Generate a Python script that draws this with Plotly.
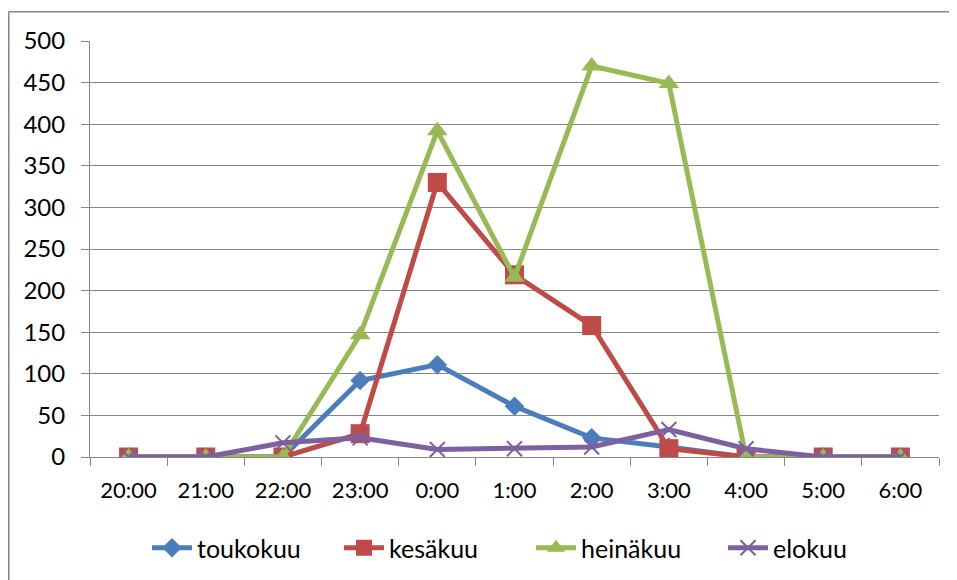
import plotly.graph_objects as go

categories = ["20:00", "21:00", "22:00", "23:00", "0:00", "1:00", "2:00", "3:00", "4:00", "5:00", "6:00"]
toukokuu = [0, 0, 0, 92, 111, 61, 23, 12, 0, 0, 0]
kesakuu = [0, 0, 0, 28, 330, 219, 158, 10, 0, 0, 0]
heinakuu = [0, 0, 0, 147, 392, 216, 470, 449, 0, 0, 0]
elokuu = [0, 0, 17, 23, 9, 10, 12, 33, 10, 0, 0]
y_ticks = [0, 50, 100, 150, 200, 250, 300, 350, 400, 450, 500]

series = [
    ("toukokuu", toukokuu, "#4A7EBB", "diamond", 15),
    ("kesäkuu", kesakuu, "#BE4B48", "square", 19),
    ("heinäkuu", heinakuu, "#98B954", "triangle-up", 18),
    ("elokuu", elokuu, "#7D60A0", "x-thin", 15),
]

fig = go.Figure()
for name, vals, color, sym, size in series:
    fig.add_trace(go.Scatter(
        x=categories, y=vals, name=name, mode="lines+markers",
        line=dict(color=color, width=5),
        marker=dict(symbol=sym, size=size, color=color,
                    line=dict(color=color, width=2 if sym == "x-thin" else 0)),
    ))

# page body has an 8px margin, so the figure is offset by 8px
W, H = 949, 572
ml, mt = 82, 33
pw, ph = 849, 416
mr, mb = W - ml - pw, H - mt - ph

def px_x(p):
    return (p - ml) / pw

def px_y(p):
    return 1 - (p - mt) / ph

border = dict(color="#868686", width=1.5)
fig.add_shape(type="line", xref="paper", yref="paper",
              x0=px_x(0.75), x1=px_x(W + 40), y0=px_y(3.75), y1=px_y(3.75),
              line=border, layer="below")
fig.add_shape(type="line", xref="paper", yref="paper",
              x0=px_x(0.75), x1=px_x(0.75), y0=px_y(3.75), y1=px_y(H + 40),
              line=border, layer="below")

fig.update_layout(
    width=W, height=H,
    margin=dict(l=ml, r=mr, t=mt, b=mb, autoexpand=False),
    paper_bgcolor="white", plot_bgcolor="white",
    font=dict(family="Lato, Open Sans, sans-serif", size=22, color="black"),
    showlegend=True,
    legend=dict(orientation="h", x=px_x(139), xanchor="left", y=px_y(540), yanchor="middle",
                font=dict(size=25), traceorder="normal", itemwidth=40,
                entrywidth=137, entrywidthmode="pixels"),
    xaxis=dict(type="category", range=[-0.5, 10.5], tickson="boundaries",
               ticks="outside", ticklen=8, tickcolor="#868686", tickwidth=1,
               showline=True, linecolor="#868686", linewidth=1,
               showgrid=False, zeroline=False, fixedrange=True,
               ticklabelstandoff=14),
    yaxis=dict(range=[0, 500], tickvals=y_ticks, ticks="outside", ticklen=8,
               tickcolor="#868686", showline=True, linecolor="#868686", linewidth=1,
               showgrid=True, gridcolor="#868686", gridwidth=1, zeroline=False,
               tickfont=dict(size=24), ticklabelstandoff=11, fixedrange=True),
)

fig.write_html("out.html", post_script="document.body.style.overflow='hidden';")
